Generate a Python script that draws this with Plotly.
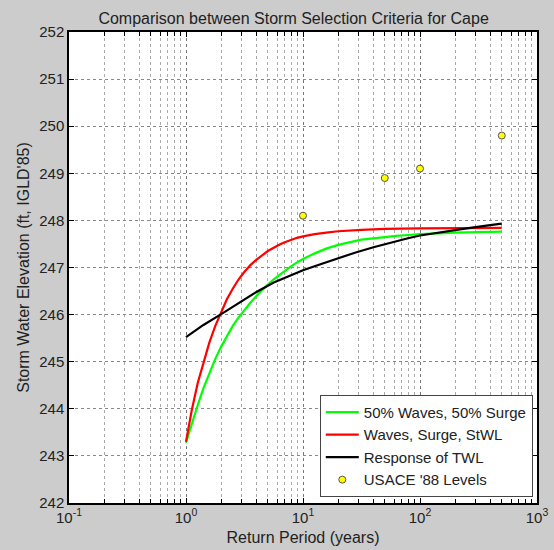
import plotly.graph_objects as go

# Return periods (years) and curve values (ft, IGLD'85)
green_x = [1, 1.12, 1.26, 1.41, 1.58, 1.78, 2, 2.24, 2.51, 2.82, 3.16, 3.55, 3.98, 4.47, 5.01, 5.62,
           6.31, 7.08, 7.94, 8.91, 10, 12.6, 15.8, 20, 25.1, 31.6, 39.8, 50, 63, 79, 100, 200, 500]
green_y = [243.28, 243.7, 244.08, 244.44, 244.76, 245.06, 245.32, 245.55, 245.76, 245.94, 246.1, 246.25,
           246.39, 246.52, 246.64, 246.75, 246.85, 246.94, 247.03, 247.11, 247.18, 247.3, 247.4, 247.48,
           247.54, 247.59, 247.62, 247.65, 247.67, 247.69, 247.71, 247.74, 247.76]

red_x = [1, 1.12, 1.26, 1.41, 1.58, 1.78, 2, 2.24, 2.51, 2.82, 3.16, 3.55, 3.98, 4.47, 5.01, 5.62,
         6.31, 7.08, 7.94, 8.91, 10, 12.6, 15.8, 20, 31.6, 50, 100, 500]
red_y = [243.3, 243.97, 244.55, 245.0, 245.4, 245.76, 246.06, 246.33, 246.55, 246.75, 246.91, 247.05,
         247.16, 247.26, 247.35, 247.42, 247.49, 247.54, 247.59, 247.63, 247.66, 247.71, 247.74,
         247.77, 247.8, 247.82, 247.83, 247.84]

black_x = [1, 1.41, 2, 2.82, 4, 5.62, 7.94, 10, 14.1, 20, 28.2, 40, 56, 79, 100, 158, 251, 398, 500]
black_y = [245.52, 245.78, 246.01, 246.25, 246.48, 246.68, 246.84, 246.94, 247.07, 247.2, 247.32,
           247.43, 247.53, 247.62, 247.68, 247.76, 247.83, 247.9, 247.93]

usace_x = [10, 50, 100, 500]
usace_y = [248.1, 248.9, 249.1, 249.8]

x_major = [0.1, 1, 10, 100, 1000]
x_major_text = ["10<sup>-1</sup>", "10<sup>0</sup>", "10<sup>1</sup>", "10<sup>2</sup>", "10<sup>3</sup>"]
x_minor = [m * d for d in [0.1, 1, 10, 100] for m in range(2, 10)]
y_ticks = list(range(242, 253))

FONT = "Liberation Sans, Arial, sans-serif"

fig = go.Figure()
fig.add_trace(go.Scatter(x=green_x, y=green_y, mode="lines", name="50% Waves, 50% Surge",
                         line=dict(color="#00ff00", width=2.2)))
fig.add_trace(go.Scatter(x=red_x, y=red_y, mode="lines", name="Waves, Surge, StWL",
                         line=dict(color="#ff0000", width=2.2)))
fig.add_trace(go.Scatter(x=black_x, y=black_y, mode="lines", name="Response of TWL",
                         line=dict(color="#000000", width=2.2)))
fig.add_trace(go.Scatter(x=usace_x, y=usace_y, mode="markers", name="USACE '88 Levels",
                         marker=dict(color="#ffff00", size=7, line=dict(color="#555555", width=1))))

fig.update_layout(
    width=554, height=550,
    paper_bgcolor="#cccccc", plot_bgcolor="#ffffff",
    margin=dict(l=69, r=17, t=32, b=47),
    font=dict(family=FONT, size=15, color="#222222"),
    title=dict(text="Comparison between Storm Selection Criteria for Cape", x=0.53, xanchor="center",
               y=0.967, yanchor="middle", font=dict(size=16, color="#222222")),
    showlegend=True,
    legend=dict(x=0.991, y=0.013, xanchor="right", yanchor="bottom",
                bgcolor="#ffffff", bordercolor="#444444", borderwidth=1,
                font=dict(size=15, color="#222222"), tracegroupgap=0, itemwidth=33),
)
fig.update_xaxes(
    type="log", range=[-1, 3], automargin=False,
    tickmode="array", tickvals=x_major, ticktext=x_major_text,
    ticks="inside", ticklen=5, tickcolor="#000000",
    tickfont=dict(size=15),
    showline=True, linecolor="#000000", linewidth=1.5, mirror="ticks",
    showgrid=True, gridcolor="#777777", griddash="dot", gridwidth=1,
    minor=dict(tickvals=x_minor, ticks="inside", ticklen=4, tickcolor="#000000",
               showgrid=True, gridcolor="#aaaaaa", griddash="dot", gridwidth=1),
    title=dict(text="Return Period (years)", standoff=7, font=dict(size=16)),
    zeroline=False,
)
fig.update_yaxes(
    range=[242, 252], automargin=False, tickmode="array", tickvals=y_ticks,
    ticks="inside", ticklen=5, tickcolor="#000000",
    tickfont=dict(size=15),
    showline=True, linecolor="#000000", linewidth=1.5, mirror="ticks",
    showgrid=True, gridcolor="#888888", griddash="dot", gridwidth=1,
    title=dict(text="Storm Water Elevation (ft, IGLD'85)", standoff=6, font=dict(size=16)),
    zeroline=False,
)

fig.write_html("out.html")
